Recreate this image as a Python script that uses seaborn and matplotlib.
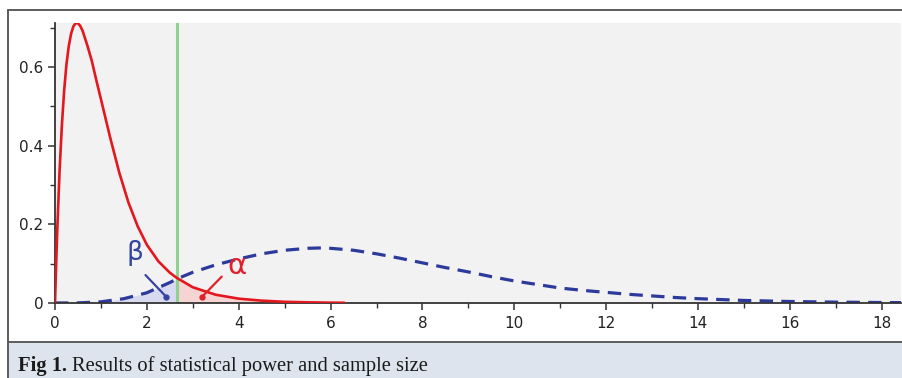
import matplotlib
matplotlib.use("Agg")
import matplotlib.pyplot as plt
import seaborn as sns
import numpy as np
from matplotlib.patches import Rectangle
from matplotlib.lines import Line2D

# ---------------- data ----------------
# central distribution (H0), red solid
x_central = [0, 0.02, 0.05, 0.1, 0.15, 0.2, 0.25, 0.3, 0.35, 0.4, 0.45, 0.5, 0.55, 0.6,
             0.7, 0.8, 0.9, 1.0, 1.2, 1.4, 1.6, 1.8, 2.0, 2.25, 2.5, 2.65, 3.0, 3.5,
             4.0, 4.5, 5.0, 5.5, 6.0, 6.3]
y_central = [0, 0.080, 0.188, 0.337, 0.452, 0.541, 0.607, 0.653, 0.684, 0.703, 0.711,
             0.711, 0.704, 0.692, 0.656, 0.616, 0.566, 0.518, 0.421, 0.331, 0.255,
             0.195, 0.148, 0.106, 0.077, 0.064, 0.040, 0.021, 0.011, 0.006, 0.003,
             0.0017, 0.0009, 0.0006]
# non-central distribution (H1), blue dashed
x_noncentral = [0, 0.5, 1.0, 1.5, 2.0, 2.5, 2.65, 3.0, 3.5, 4.0, 4.5, 5.0, 5.5, 5.8,
                6.0, 6.5, 7.0, 7.5, 8.0, 8.5, 9.0, 9.5, 10.0, 10.5, 11.0, 11.5, 12.0,
                12.5, 13.0, 13.5, 14.0, 15.0, 16.0, 17.0, 18.0, 18.42]
y_noncentral = [0, 0.0003, 0.003, 0.011, 0.026, 0.052, 0.061, 0.078, 0.097, 0.112,
                0.125, 0.134, 0.139, 0.140, 0.139, 0.134, 0.125, 0.114, 0.102, 0.090,
                0.079, 0.067, 0.056, 0.047, 0.038, 0.032, 0.027, 0.022, 0.018, 0.014,
                0.011, 0.0065, 0.0038, 0.0022, 0.0012, 0.0009]
critical_f = 2.65

x_major = [0, 2, 4, 6, 8, 10, 12, 14, 16, 18]
x_minor = [1, 3, 5, 7, 9, 11, 13, 15, 17]
y_major = [0, 0.2, 0.4, 0.6]
y_major_labels = ["0", "0.2", "0.4", "0.6"]
y_minor = [0.1, 0.3, 0.5, 0.7]
label_beta = "β"
label_alpha = "α"
caption_bold = "Fig 1."
caption_text = "Results of statistical power and sample size"

# ---------------- styling ----------------
sns.set_style("white")
plt.rcParams['font.family'] = ['DejaVu Sans']

W, H = 903, 378
fig = plt.figure(figsize=(W / 100, H / 100), dpi=100)
fig.patch.set_facecolor('white')


def fx(px):
    return px / W


def fy(py):
    return 1 - py / H


# caption band and frame
fig.add_artist(Rectangle((fx(8), 0), 1.0, fy(342), transform=fig.transFigure,
                         facecolor='#dee4ed', edgecolor='none', zorder=0))
frame_col = '#5c5c5c'
fig.add_artist(Line2D([fx(8), 1.01], [fy(10), fy(10)], color=frame_col, lw=1.4))
fig.add_artist(Line2D([fx(8), 1.01], [fy(342), fy(342)], color=frame_col, lw=1.4))
fig.add_artist(Line2D([fx(8), fx(8)], [fy(10), -0.01], color=frame_col, lw=1.4))

ax = fig.add_axes([fx(55), fy(303), fx(901) - fx(55), fy(22.7) - fy(303)])
ax.set_facecolor('#f2f2f2')

red = '#e4161e'
blue = '#2c3a9c'
green = '#8fd18f'

xc = np.array(x_central)
yc = np.array(y_central)
xn = np.array(x_noncentral)
yn = np.array(y_noncentral)

# shaded error areas
mb = xn <= critical_f
ax.fill_between(xn[mb], 0, yn[mb], color='#d8daf0', lw=0, zorder=1)
ma = xc >= critical_f
ax.fill_between(xc[ma], 0, yc[ma], color='#f6d4d4', lw=0, zorder=1)

ax.axvline(critical_f, color=green, lw=2.2, zorder=2)

sns.lineplot(x=x_noncentral, y=y_noncentral, ax=ax, color=blue, lw=2.3,
             linestyle=(0, (4.2, 2.6)), estimator=None, zorder=3)
sns.lineplot(x=x_central, y=y_central, ax=ax, color=red, lw=1.9,
             estimator=None, zorder=4)

# Greek labels with pointers
ax.text(1.74, 0.127, label_beta, color='#34449f', fontsize=19, ha='center', va='center', zorder=5)
ax.plot([1.97, 2.42], [0.071, 0.016], color='#34449f', lw=1.6, zorder=5,
        marker='o', markersize=3.5, markevery=[1], solid_capstyle='round')
ax.text(3.96, 0.094, label_alpha, color='#e0202a', fontsize=21, ha='center', va='center', zorder=5)
ax.plot([3.63, 3.19], [0.067, 0.0145], color='#e0202a', lw=1.6, zorder=5,
        marker='o', markersize=3.5, markevery=[1], solid_capstyle='round')

ax.set_xlim(0, (901 - 55) / 45.93)
ax.set_ylim(0, (303 - 22.7) / 393.5)

ax.set_xticks(x_major)
ax.set_xticklabels([str(v) for v in x_major])
ax.set_xticks(x_minor, minor=True)
ax.set_yticks(y_major)
ax.set_yticklabels(y_major_labels)
ax.set_yticks(y_minor, minor=True)
ax.set_xlabel('')
ax.set_ylabel('')

for s in ['top', 'right']:
    ax.spines[s].set_visible(False)
for s in ['left', 'bottom']:
    ax.spines[s].set_color('#333333')
    ax.spines[s].set_linewidth(1.3)
    ax.spines[s].set_zorder(3.5)

ax.tick_params(axis='both', which='major', length=5, width=1.1, color='#333333',
               labelsize=11, labelcolor='#222222', direction='out')
ax.tick_params(axis='both', which='minor', length=3.5, width=1.0, color='#333333',
               direction='out')
ax.tick_params(axis='y', which='major', pad=3.5)
ax.tick_params(axis='x', which='major', pad=4)
ax.tick_params(left=True, bottom=True, which='both')

# caption
cap_y = fy(366)
t1 = fig.text(fx(18), cap_y, caption_bold, fontfamily='Liberation Serif', fontweight='bold',
              fontsize=14.8, va='center', ha='left', color='#1a1a1a')
renderer = fig.canvas.get_renderer()
bb = t1.get_window_extent(renderer)
fig.text((bb.x1 + 5) / W, cap_y, caption_text, fontfamily='Liberation Serif',
         fontsize=14.8, va='center', ha='left', color='#1a1a1a')

fig.savefig('out.png', dpi=100)
